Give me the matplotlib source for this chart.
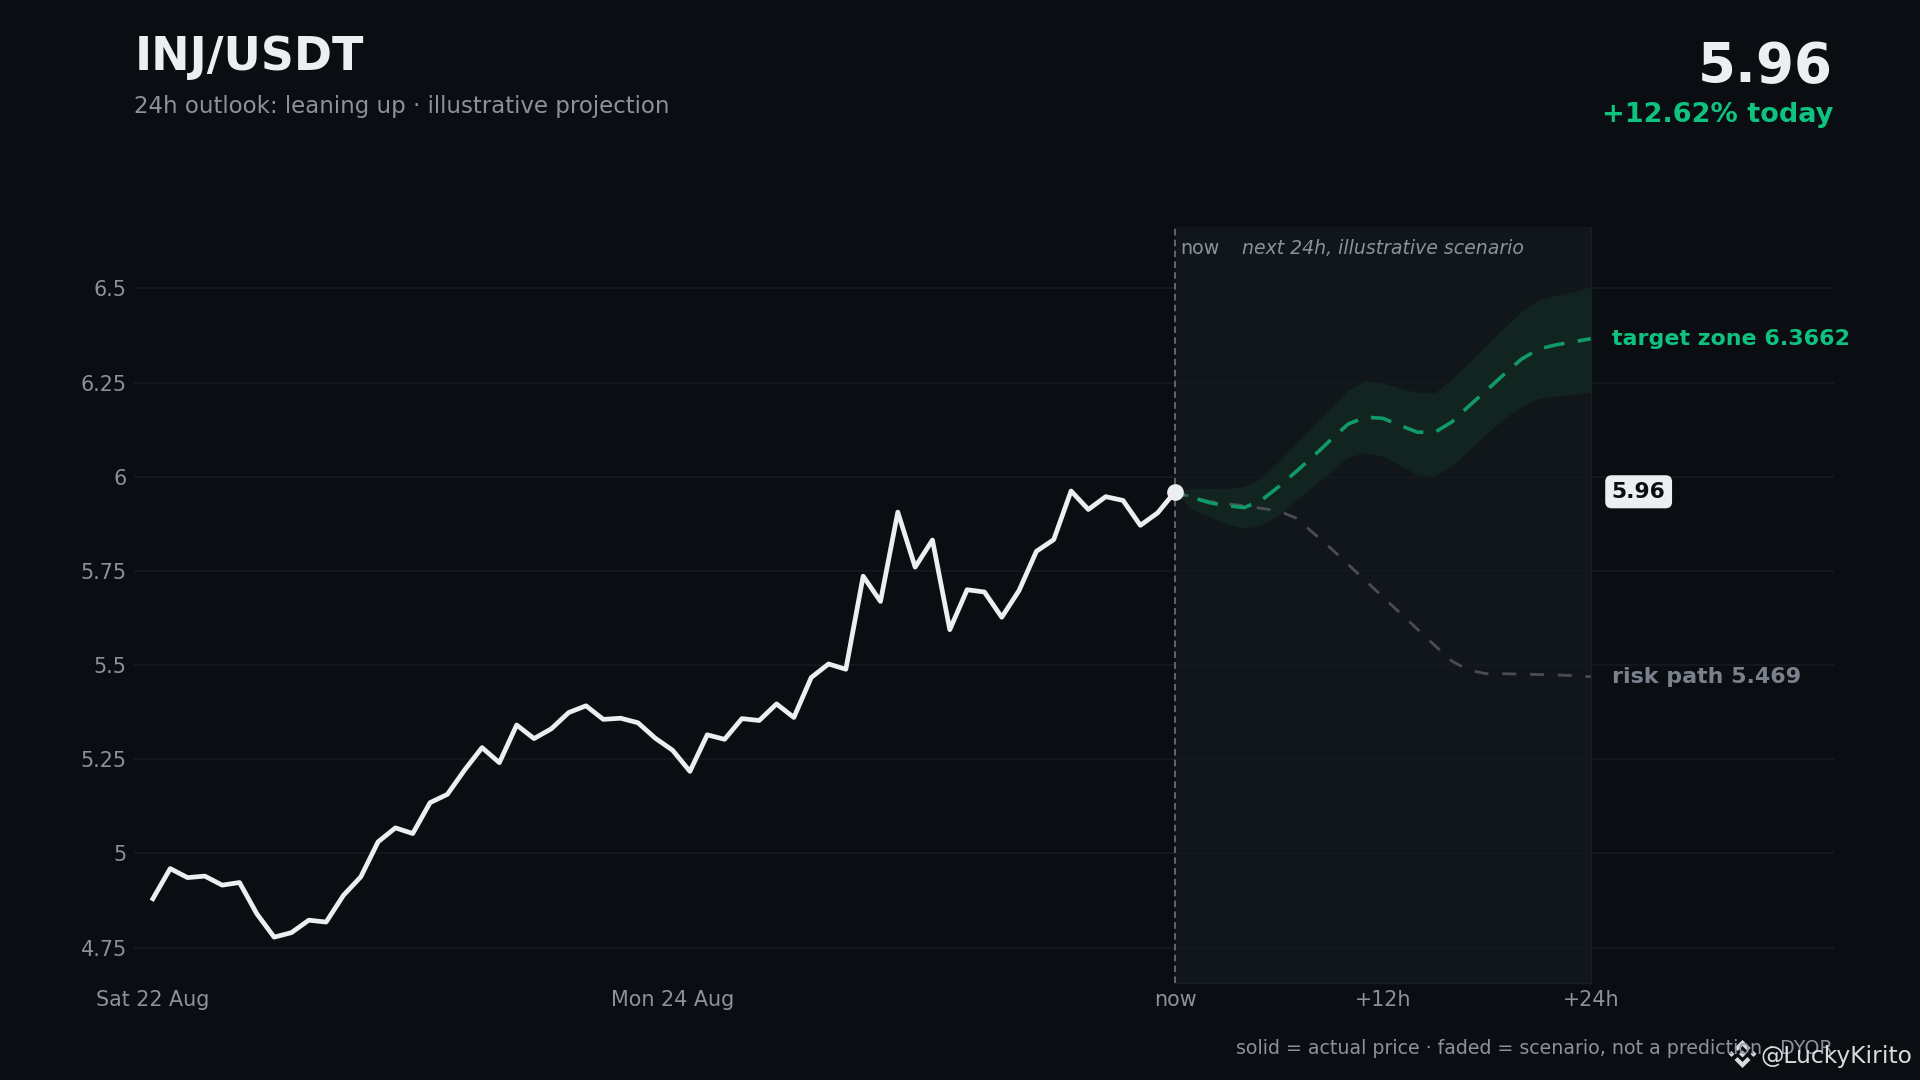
import matplotlib
matplotlib.use('Agg')
import matplotlib.pyplot as plt
from matplotlib.patches import Polygon

# hourly closes, oldest first, last one is "now"
actual_price = [
    4.880, 4.960, 4.936, 4.940, 4.916, 4.923, 4.840, 4.778, 4.790, 4.823,
    4.818, 4.889, 4.938, 5.031, 5.068, 5.053, 5.135, 5.157, 5.222, 5.281,
    5.241, 5.341, 5.305, 5.331, 5.374, 5.392, 5.356, 5.359, 5.347, 5.306,
    5.274, 5.218, 5.315, 5.303, 5.358, 5.353, 5.397, 5.361, 5.467, 5.503,
    5.489, 5.736, 5.669, 5.906, 5.760, 5.832, 5.594, 5.700, 5.694, 5.627,
    5.698, 5.802, 5.833, 5.962, 5.913, 5.947, 5.937, 5.871, 5.904, 5.960,
]
# next 24h, one value per hour from now
target_path = [
    5.958, 5.945, 5.931, 5.923, 5.918, 5.938, 5.974, 6.014, 6.055, 6.098,
    6.140, 6.158, 6.155, 6.136, 6.118, 6.118, 6.146, 6.189, 6.230, 6.272,
    6.312, 6.339, 6.350, 6.358, 6.3662,
]
target_upper = [
    5.958, 5.969, 5.969, 5.968, 5.974, 5.996, 6.041, 6.088, 6.136, 6.183,
    6.230, 6.254, 6.248, 6.235, 6.223, 6.223, 6.259, 6.303, 6.349, 6.395,
    6.438, 6.469, 6.481, 6.492, 6.503,
]
target_lower = [
    5.958, 5.912, 5.894, 5.875, 5.863, 5.872, 5.899, 5.938, 5.976, 6.014,
    6.052, 6.064, 6.055, 6.030, 6.005, 6.002, 6.030, 6.071, 6.115, 6.155,
    6.186, 6.207, 6.214, 6.219, 6.223,
]
risk_path = [
    5.958, 5.946, 5.934, 5.928, 5.923, 5.916, 5.909, 5.890, 5.850, 5.810,
    5.767, 5.724, 5.681, 5.638, 5.595, 5.552, 5.510, 5.486, 5.477, 5.477,
    5.476, 5.475, 5.474, 5.472, 5.469,
]
hours_back = list(range(-59, 1))
hours_ahead = list(range(0, 25))

y_ticks = [4.75, 5, 5.25, 5.5, 5.75, 6, 6.25, 6.5]
y_labels = ['4.75', '5', '5.25', '5.5', '5.75', '6', '6.25', '6.5']
x_ticks = [-59, -29, 0, 12, 24]
x_labels = ['Sat 22 Aug', 'Mon 24 Aug', 'now', '+12h', '+24h']

BG = '#0a0e12'
GRID = '#151a21'
BAND = '#11161a'
WHITE = '#eceef1'
GREY = '#8b929c'
GREEN = '#10c27f'

W, H = 1920, 1080
fig = plt.figure(figsize=(W / 100, H / 100), dpi=100, facecolor=BG)
ax = fig.add_axes([134 / W, 1 - 983 / H, 1700 / W, 756 / H], facecolor=BG)


def ftext(px, py, s, **kw):
    # place text by pixel position on the figure
    fig.text(px / W, 1 - py / H, s, va='center', **kw)


ax.set_xlim(-60.09, 38.04)
ax.set_ylim(4.6563, 6.6627)
for side in ax.spines.values():
    side.set_visible(False)

ax.set_yticks(y_ticks, y_labels)
ax.set_xticks(x_ticks, x_labels)
ax.tick_params(axis='both', length=0, labelcolor=GREY, labelsize=14.9)
ax.tick_params(axis='y', pad=5.3)
ax.tick_params(axis='x', pad=5)
ax.grid(axis='y', color=GRID, lw=1.2, zorder=0)
ax.set_axisbelow(True)

ax.axvspan(0, 24, color=BAND, lw=0, zorder=1)
ax.plot([24, 24], [4.6563, 6.6627], color='#1a1f24', lw=1, zorder=1.1)
ax.plot([0, 24], [4.6563, 4.6563], color='#1a1f24', lw=1, zorder=1.1, clip_on=False)
for tick in y_ticks:
    ax.plot([0, 24], [tick, tick], color=GRID, lw=1.2, zorder=1.2)
ax.axvline(0, color='#6f747b', lw=1.2, ls=(0, (4, 2.5)), zorder=2)

ax.fill_between(hours_ahead, target_lower, target_upper, color='#122420', lw=0, zorder=2)
ax.plot(hours_ahead, risk_path, color='#4a4e54', lw=2, ls=(0, (5, 5)), zorder=3)
ax.plot(hours_ahead, target_path, color='#0f9a68', lw=2.6, ls=(3, (5.8, 3.7)), zorder=4)
ax.plot(hours_back, actual_price, color=WHITE, lw=3.4, solid_joinstyle='round', zorder=5)
ax.plot(hours_back[-1], actual_price[-1], 'o', color=WHITE, ms=11, zorder=6, clip_on=False)

ax.annotate('now', (0, 6.6627), xytext=(5, -22), textcoords='offset pixels',
            color=GREY, fontsize=13.7, va='center')
ax.annotate('next 24h, illustrative scenario', (0, 6.6627), xytext=(67, -22),
            textcoords='offset pixels', color=GREY, fontsize=13.6, style='italic', va='center')
ax.annotate('target zone 6.3662', (24, target_path[-1]), xytext=(21, 0), textcoords='offset pixels',
            color=GREEN, fontsize=15.9, fontweight='bold', va='center', annotation_clip=False)
ax.annotate('risk path 5.469', (24, risk_path[-1]), xytext=(21, 0), textcoords='offset pixels',
            color='#7b818c', fontsize=15.9, fontweight='bold', va='center', annotation_clip=False)
ax.annotate('5.96', (24, actual_price[-1]), xytext=(21, 0), textcoords='offset pixels',
            color='#0a0e12', fontsize=15.7, fontweight='bold', va='center', annotation_clip=False,
            bbox=dict(boxstyle='round,pad=0.3,rounding_size=0.3', fc=WHITE, ec='none'))

ftext(134.5, 58, 'INJ/USDT', color=WHITE, fontsize=33, fontweight='bold')
ftext(134.5, 107, '24h outlook: leaning up · illustrative projection', color=GREY, fontsize=16.5)
ftext(1833, 67, '5.96', color=WHITE, fontsize=39.3, fontweight='bold', ha='right')
ftext(1833, 115, '+12.62% today', color=GREEN, fontsize=19.5, fontweight='bold', ha='right')
ftext(1833, 1048, 'solid = actual price · faded = scenario, not a prediction · DYOR',
      color=GREY, fontsize=13.7, ha='right')

# watermark sits on top of the footer
ftext(1761, 1056, '@LuckyKirito', color='#e4e6e8', fontsize=16.8, alpha=0.95)
cx, cy = 1742.5, 1054
top_chevron = [(0, -14), (8, -6), (5, -3), (0, -8), (-5, -3), (-8, -6)]
logo_parts = [
    top_chevron,
    [(x, -y) for x, y in top_chevron],
    [(0, -3.5), (3.5, 0), (0, 3.5), (-3.5, 0)],
    [(-11, -3), (-8, 0), (-11, 3), (-14, 0)],
    [(11, -3), (14, 0), (11, 3), (8, 0)],
]
for part in logo_parts:
    pts = [((cx + a) / W, 1 - (cy + b) / H) for a, b in part]
    fig.add_artist(Polygon(pts, closed=True, transform=fig.transFigure, fc='#e4e6e8', ec='none', alpha=0.95))

fig.savefig('out.png', facecolor=BG)
